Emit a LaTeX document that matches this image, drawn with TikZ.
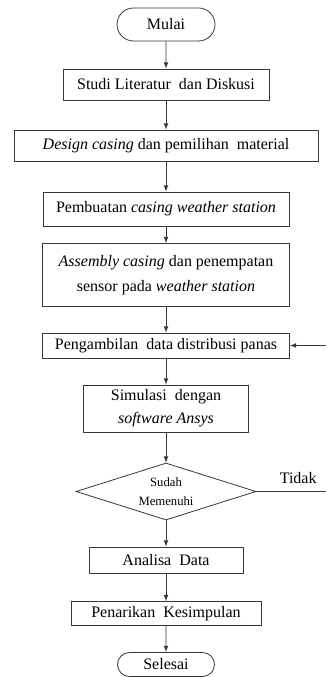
\documentclass[tikz,border=0pt]{standalone}
\usepackage{fontspec}
\setmainfont{Liberation Serif}
\usetikzlibrary{shapes.misc,shapes.geometric}
\definecolor{mygray}{RGB}{55,55,55}
\newcommand{\px}{0.75pt}
\newcommand{\fsize}{\fontsize{12}{17}\selectfont}
\newcommand{\fsmall}{\fontsize{9.5}{14}\selectfont}
\tikzset{
    common/.style={draw=mygray, line width=0.6pt, inner sep=0pt, align=center, font=\fsize},
    proses/.style={common, rectangle},
    terminal/.style={common, rounded rectangle, minimum width=98*\px, minimum height=33*\px},
    keputusan/.style={common, diamond, aspect=3, font=\fsmall},
    panah/.style={draw=mygray, line width=0.6pt, -latex},
    garis/.style={draw=mygray, line width=0.6pt}
}

\begin{document}
\begin{tikzpicture}[x=\px, y=-\px]
    \useasboundingbox (0,0) rectangle (326,677);
    \path
        (166,24.5) node[terminal] (mulai) {Mulai}
        to ++(0,60) node[proses, minimum width=206*\px, minimum height=31*\px] (studi) {Studi Literatur\ \ dan Diskusi}
        to ++(0,61) node[proses, minimum width=304*\px, minimum height=31*\px] (design) {\emph{Design casing} dan pemilihan\ \ material}
        to ++(0,63.5) node[proses, minimum width=246*\px, minimum height=34*\px] (pembuatan) {Pembuatan \emph{casing weather station}}
        to ++(0,66) node[proses, minimum width=247*\px, minimum height=63*\px, font=\fontsize{12}{19}\selectfont] (assembly) {\emph{Assembly casing} dan penempatan\\sensor pada \emph{weather station}}
        to ++(0,70.5) node[proses, minimum width=247*\px, minimum height=25*\px] (pengambilan) {Pengambilan\ \ data distribusi panas}
        to ++(0,63) node[proses, minimum width=165*\px, minimum height=47*\px] (simulasi) {Simulasi\ \ dengan\\\emph{software Ansys}}
        to ++(0,83) node[keputusan, minimum width=180*\px, minimum height=57*\px] (sudah) {Sudah\\Memenuhi}
        to ++(0,68.5) node[proses, minimum width=154*\px, minimum height=26*\px] (analisa) {Analisa\ \ Data}
        to ++(0,53.5) node[proses, minimum width=190*\px, minimum height=24*\px] (penarikan) {Penarikan\ \ Kesimpulan}
        to ++(0,51) node[terminal, minimum height=24*\px, minimum width=97*\px] (selesai) {Selesai};

    % arah alur utama
    \draw[panah] (mulai) -- (studi);
    \draw[panah] (studi) -- (design);
    \draw[panah] (design) -- (pembuatan);
    \draw[panah] (pembuatan) -- (assembly);
    \draw[panah] (assembly) -- (pengambilan);
    \draw[panah] (pengambilan) -- (simulasi);
    \draw[panah] (simulasi) -- (sudah);
    \draw[panah] (sudah) -- (analisa);
    \draw[panah] (analisa) -- (penarikan);
    \draw[panah] (penarikan) -- (selesai);

    % umpan balik
    \coordinate (ujungtidak) at (326,491.5);
    \coordinate (balik) at (326,345.5);
    \draw[garis] (sudah.east) -- node[above, pos=0.6, font=\fsize, yshift=2pt] {Tidak} (ujungtidak);
    \draw[panah] (balik) -- (pengambilan.east);
\end{tikzpicture}
\end{document}
